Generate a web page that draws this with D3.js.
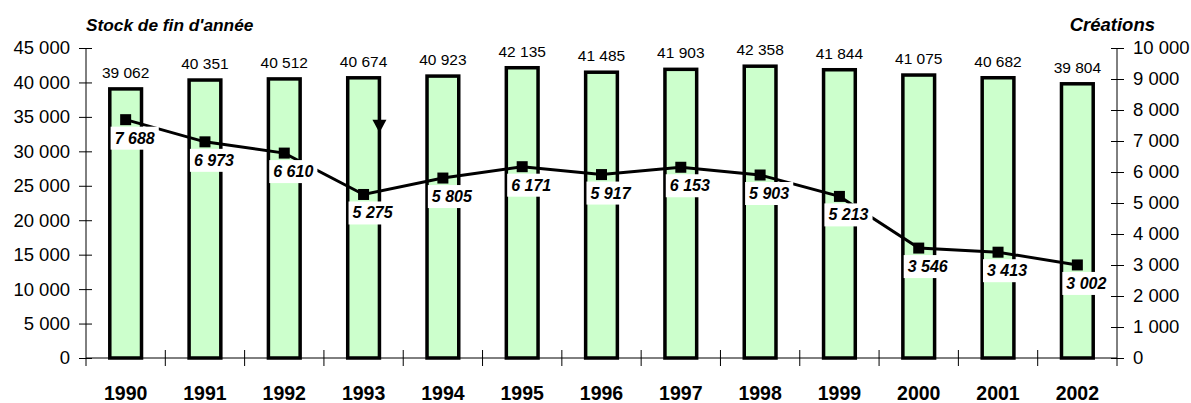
<!DOCTYPE html>
<html lang="fr">
<head>
    <meta charset="UTF-8">
    <title>Stock et créations</title>
    <style>
        body { margin: 0; background: #fff; }
        svg text { font-family: "Liberation Sans", Arial, sans-serif; fill: #000; }
        .tick-label { font-size: 18.5px; }
        .year-label { font-size: 19.5px; font-weight: bold; }
        .bar-label { font-size: 15.5px; }
        .line-label { font-size: 16px; font-weight: bold; font-style: italic; }
        .title { font-size: 17.3px; font-weight: bold; font-style: italic; }
        .title-r { font-size: 18.5px; font-weight: bold; font-style: italic; }
    </style>
</head>
<body>
    <svg width="1191" height="403"></svg>
    <script src="https://d3js.org/d3.v7.min.js"></script>
    <script>
        const years = ["1990", "1991", "1992", "1993", "1994", "1995", "1996", "1997", "1998", "1999", "2000", "2001", "2002"];
        const stock = [39062, 40351, 40512, 40674, 40923, 42135, 41485, 41903, 42358, 41844, 41075, 40682, 39804];
        const creations = [7688, 6973, 6610, 5275, 5805, 6171, 5917, 6153, 5903, 5213, 3546, 3413, 3002];
        const leftTicks = [0, 5000, 10000, 15000, 20000, 25000, 30000, 35000, 40000, 45000];
        const rightTicks = [0, 1000, 2000, 3000, 4000, 5000, 6000, 7000, 8000, 9000, 10000];
        const arrowYear = "1993";

        const svg = d3.select("svg");
        const m = {left: 86, right: 1117, top: 48, bottom: 358};

        const fr = d3.formatLocale({decimal: ",", thousands: "\u00a0", grouping: [3], currency: ["", ""]});
        const fmt = fr.format(",");

        const x = d3.scaleBand().domain(years).range([m.left, m.right]);
        const yL = d3.scaleLinear().domain([0, 45000]).range([m.bottom, m.top]);
        const yR = d3.scaleLinear().domain([0, 10000]).range([m.bottom, m.top]);
        const barW = x.bandwidth() * 0.4;
        const cx = d => x(d) + x.bandwidth() / 2;

        const rows = years.map((y, i) => ({year: y, stock: stock[i], cre: creations[i]}));

        // bars
        svg.append("g").selectAll("rect")
            .data(rows)
            .join("rect")
            .attr("x", d => cx(d.year) - barW / 2)
            .attr("y", d => yL(d.stock))
            .attr("width", barW)
            .attr("height", d => m.bottom - yL(d.stock))
            .attr("fill", "#ccffcc")
            .attr("stroke", "#000")
            .attr("stroke-width", 3.5);

        // bar values
        svg.append("g").selectAll("text")
            .data(rows)
            .join("text")
            .attr("class", "bar-label")
            .attr("x", d => cx(d.year))
            .attr("y", d => yL(d.stock) - 11)
            .attr("text-anchor", "middle")
            .text(d => fmt(d.stock));

        // axes
        const axL = svg.append("g")
            .attr("transform", `translate(${m.left},0)`)
            .call(d3.axisLeft(yL).tickValues(leftTicks).tickFormat(fmt).tickSize(7).tickPadding(9));
        axL.select(".domain").remove();
        axL.selectAll(".tick line").attr("x1", 6);
        axL.selectAll(".tick text").attr("class", "tick-label");
        axL.attr("font-size", null).attr("font-family", null);

        const axR = svg.append("g")
            .attr("transform", `translate(${m.right},0)`)
            .call(d3.axisRight(yR).tickValues(rightTicks).tickFormat(fmt).tickSize(7).tickPadding(9));
        axR.select(".domain").remove();
        axR.selectAll(".tick line").attr("x1", -6);
        axR.selectAll(".tick text").attr("class", "tick-label");
        axR.attr("font-size", null).attr("font-family", null);

        svg.append("line").attr("x1", m.left).attr("x2", m.left).attr("y1", m.top).attr("y2", m.bottom + 8).attr("stroke", "#000");
        svg.append("line").attr("x1", m.right).attr("x2", m.right).attr("y1", m.top).attr("y2", m.bottom + 8).attr("stroke", "#000");
        svg.append("line").attr("x1", m.left).attr("x2", m.right).attr("y1", m.bottom).attr("y2", m.bottom).attr("stroke", "#000");

        // category separators
        svg.append("g").selectAll("line")
            .data(years.slice(1))
            .join("line")
            .attr("x1", d => x(d)).attr("x2", d => x(d))
            .attr("y1", m.bottom - 8).attr("y2", m.bottom + 8)
            .attr("stroke", "#000");

        svg.append("g").selectAll("text")
            .data(years)
            .join("text")
            .attr("class", "year-label")
            .attr("x", d => cx(d))
            .attr("y", 400)
            .attr("text-anchor", "middle")
            .text(d => d);

        // arrow on 1993 bar
        const ar = rows.find(d => d.year === arrowYear);
        const ax = cx(ar.year) + barW / 2;
        const ay1 = yL(ar.stock), ay2 = yR(ar.cre);
        const tip = ay1 + (ay2 - ay1) * 0.47;
        svg.append("line").attr("x1", ax).attr("x2", ax).attr("y1", ay1).attr("y2", ay2)
            .attr("stroke", "#000").attr("stroke-width", 3);
        svg.append("path")
            .attr("d", `M${ax - 7},${tip - 13}L${ax + 7},${tip - 13}L${ax},${tip}Z`)
            .attr("fill", "#000");

        // creations line
        const line = d3.line().x(d => cx(d.year)).y(d => yR(d.cre));
        svg.append("path")
            .datum(rows)
            .attr("d", line)
            .attr("fill", "none")
            .attr("stroke", "#000")
            .attr("stroke-width", 3);

        svg.append("g").selectAll("rect")
            .data(rows)
            .join("rect")
            .attr("x", d => cx(d.year) - 5.5)
            .attr("y", d => yR(d.cre) - 5.5)
            .attr("width", 11)
            .attr("height", 11)
            .attr("fill", "#000");

        // line labels with white boxes
        const lab = svg.append("g").selectAll("g")
            .data(rows)
            .join("g")
            .attr("transform", d => `translate(${cx(d.year) + 9},${yR(d.cre) + 24})`);
        lab.append("text")
            .attr("class", "line-label")
            .attr("text-anchor", "middle")
            .text(d => fmt(d.cre));
        lab.each(function () {
            const g = d3.select(this);
            const b = g.select("text").node().getBBox();
            g.insert("rect", "text")
                .attr("x", b.x - 4)
                .attr("y", b.y - 3)
                .attr("width", b.width + 8)
                .attr("height", b.height + 6)
                .attr("fill", "#fff");
        });

        // titles
        svg.append("text").attr("class", "title").attr("x", m.left).attr("y", 31).text("Stock de fin d'année");
        svg.append("text").attr("class", "title-r").attr("x", 1155).attr("y", 31).attr("text-anchor", "end").text("Créations");
    </script>
</body>
</html>
